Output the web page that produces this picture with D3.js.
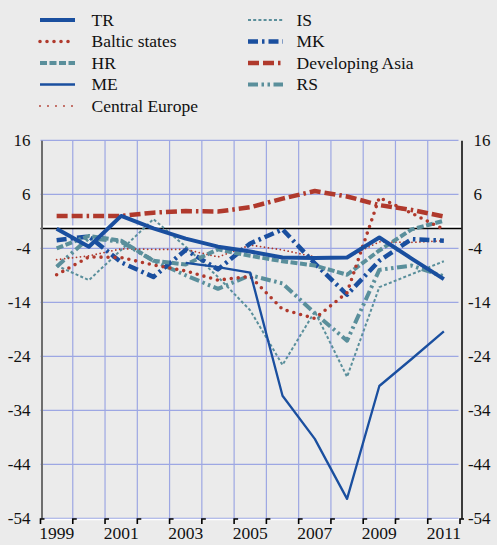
<!DOCTYPE html>
<html><head><meta charset="utf-8">
<script src="https://cdn.jsdelivr.net/npm/d3@7/dist/d3.min.js"></script>
<style>
html,body{margin:0;padding:0;background:#ebebeb;}
svg{display:block;}
</style></head>
<body>
<svg id="c" width="497" height="545"></svg>
<script>
const years = [1999,2000,2001,2002,2003,2004,2005,2006,2007,2008,2009,2010,2011];
const yearLabels = [1999,2001,2003,2005,2007,2009,2011];
const yTicks = [16,6,-4,-14,-24,-34,-44,-54];

const TR      = [-0.4,-3.7,2.0,-0.3,-2.2,-3.7,-4.6,-5.7,-5.8,-5.7,-2.0,-5.9,-9.7];
const Baltic  = [-8.9,-5.6,-5.7,-7.1,-8.2,-9.9,-9.2,-15.3,-17.0,-12.2,5.4,2.5,-0.5];
const HR      = [-4.0,-1.7,-2.6,-6.3,-7.0,-4.2,-5.4,-6.4,-7.2,-8.9,-4.4,-0.5,1.1];
const ME      = [null,null,null,null,-6.7,-7.5,-8.5,-31.3,-39.3,-50.4,-29.5,-24.5,-19.4];
const CE      = [-6.1,-5.4,-4.1,-4.2,-4.2,-5.6,-3.4,-4.3,-5.6,-5.7,-2.8,-2.9,-2.6];
const IS      = [-7.2,-9.9,-4.3,1.4,-3.7,-9.3,-15.5,-25.6,-15.7,-27.8,-11.2,-8.8,-6.4];
const MK      = [-2.5,-1.8,-6.6,-9.3,-4.3,-7.9,-3.1,-0.5,-6.8,-12.6,-6.3,-2.3,-2.6];
const DevAsia = [2.0,2.0,2.0,2.6,2.9,2.8,3.6,5.2,6.6,5.6,4.0,3.1,1.9];
const RS      = [-7.4,-2.1,-2.8,-6.3,-9.0,-11.5,-9.0,-10.5,-16.0,-21.1,-8.0,-7.2,-9.2];

const BLUE = "#1a4f9f", RED = "#b0392c", TEAL = "#5a8f9b";
const FONT = '"Liberation Serif"';
const series = [
  {name:"TR", data:TR, color:BLUE, w:4, dash:null, cap:"butt"},
  {name:"Baltic states", data:Baltic, color:RED, w:3.6, dash:"0,7", cap:"round"},
  {name:"HR", data:HR, color:TEAL, w:4, dash:"7,2.5", cap:"butt"},
  {name:"ME", data:ME, color:BLUE, w:2.3, dash:null, cap:"butt"},
  {name:"Central Europe", data:CE, color:RED, w:1.8, dash:"0,4", cap:"round"},
  {name:"IS", data:IS, color:TEAL, w:2, dash:"3,2.2", cap:"butt"},
  {name:"MK", data:MK, color:BLUE, w:4.5, dash:"10,4,2.5,4", cap:"butt"},
  {name:"Developing Asia", data:DevAsia, color:RED, w:4.5, dash:"11,4,11,4,2.5,4", cap:"butt"},
  {name:"RS", data:RS, color:TEAL, w:4, dash:"10,3.5,2.5,3.5,2.5,3.5", cap:"butt"}
];

const svg = d3.select("#c");
const pL = 40.5, pR = 460, pT = 140.3, pB = 518.3;
const x = d3.scaleBand().domain(years).range([pL, pR]).paddingInner(0).paddingOuter(0);
const y = d3.scaleLinear().domain([-54,16]).range([pB, pT]);
const cx = v => x(v) + x.bandwidth()/2;

// grid
const g = svg.append("g");
g.selectAll("line.h").data(yTicks).join("line")
  .attr("x1", pL).attr("x2", pR - 1.5)
  .attr("y1", d=>y(d)).attr("y2", d=>y(d))
  .attr("stroke", "#9da7e3").attr("stroke-width", 1.2);
g.selectAll("line.v").data(years.slice(1)).join("line")
  .attr("x1", d=>x(d)).attr("x2", d=>x(d))
  .attr("y1", pT).attr("y2", pB)
  .attr("stroke", "#9da7e3").attr("stroke-width", 1.2);

// zero line
svg.append("line").attr("x1", pL).attr("x2", pR+1.5).attr("y1", y(0)).attr("y2", y(0))
  .attr("stroke", "#ffffff").attr("stroke-width", 2.5);
svg.append("line").attr("x1", pL).attr("x2", pR+1.5).attr("y1", y(0)+1.8).attr("y2", y(0)+1.8)
  .attr("stroke", "#000").attr("stroke-width", 1.3);

// axes
const axL = svg.append("g").attr("transform", `translate(${pL+1},0)`)
  .call(d3.axisLeft(y).tickValues(yTicks).tickSize(0).tickPadding(11).tickFormat(d=>String(d)));
axL.attr("font-family", FONT);
axL.select(".domain").attr("stroke", "#6e6e6e").attr("stroke-width", 2);
axL.selectAll("text").style("font-family", FONT).attr("font-size", 17).attr("fill", "#111");

const axR = svg.append("g").attr("transform", `translate(${pR+1.5},0)`)
  .call(d3.axisRight(y).tickValues(yTicks).tickSize(0).tickPadding(12).tickFormat(d=>String(d)));
axR.attr("font-family", FONT);
axR.select(".domain").attr("stroke", "#000").attr("stroke-width", 1.5);
axR.selectAll("text").style("font-family", FONT).attr("font-size", 17).attr("fill", "#111")
  .attr("dx", d => d < 0 ? "-0.33em" : 0);

const axB = svg.append("g").attr("transform", `translate(0,${pB+0.7})`)
  .call(d3.axisBottom(x).tickValues(yearLabels).tickSize(0).tickPadding(8).tickFormat(d=>String(d)));
axB.attr("font-family", FONT);
axB.select(".domain").attr("stroke", "#ffffff").attr("stroke-width", 1.5);
axB.selectAll("text").style("font-family", FONT).attr("font-size", 17.5).attr("fill", "#111");
const bounds = years.map(d=>x(d)).concat([pR]);
axB.selectAll("path.hook").data(bounds).join("path")
  .attr("d", d => `M${d},5 V0 H${d+4}`)
  .attr("fill","none").attr("stroke","#000").attr("stroke-width",1.6);

// series
const line = d3.line().defined(d=>d.v!=null).x(d=>cx(d.yr)).y(d=>y(d.v));
const order = ["RS","Developing Asia","IS","Central Europe","MK","HR","Baltic states","ME","TR"];
order.forEach(nm => {
  const s = series.find(q=>q.name===nm);
  svg.append("path")
    .datum(s.data.map((v,i)=>({yr:years[i], v})))
    .attr("d", line)
    .attr("fill","none").attr("stroke", s.color).attr("stroke-width", s.w)
    .attr("stroke-dasharray", s.dash).attr("stroke-linecap", s.cap)
    .attr("stroke-linejoin","round");
});

// legend
const leg = svg.append("g");
series.forEach((s,i) => {
  const col = i < 5 ? 0 : 1;
  const row = i < 5 ? i : i-5;
  const lx = col===0 ? 40 : 248;
  const tx = col===0 ? 91.5 : 296.5;
  const ly = 20 + row*21.5;
  leg.append("line").attr("x1", lx).attr("x2", lx+35).attr("y1", ly).attr("y2", ly)
    .attr("stroke", s.color).attr("stroke-width", s.w)
    .attr("stroke-dasharray", s.name==="Central Europe" ? "0,8" : s.dash)
    .attr("stroke-linecap", s.cap);
  leg.append("text").attr("x", tx).attr("y", ly).attr("dy","0.33em")
    .style("font-family", FONT).attr("font-size", 17.5).attr("fill","#111").text(s.name);
});
</script>
</body></html>
